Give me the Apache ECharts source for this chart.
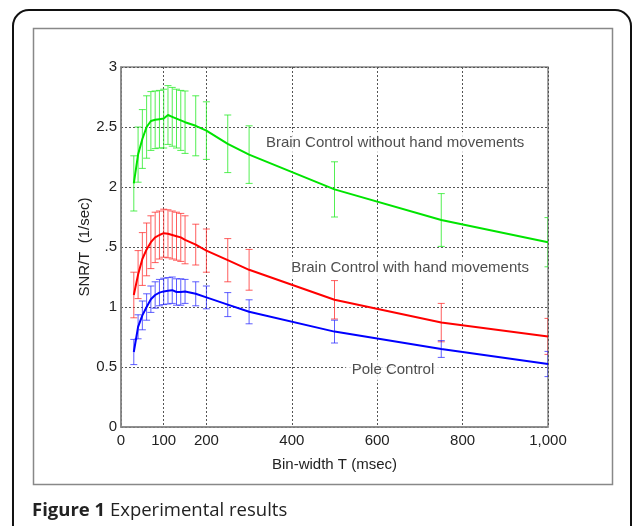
<!DOCTYPE html>
<html style="height: 100%">
<head>
  <meta charset="utf-8">
  <title>Experimental results</title>
</head>
<body style="height: 100%; margin: 0; background: #fff">
<div id="container" style="width: 633px; height: 526px"></div>
<script type="text/javascript" src="https://cdn.jsdelivr.net/npm/echarts@6/dist/echarts.min.js"></script>
<script type="text/javascript">
  // bin widths (msec)
  const binWidth = [30, 40, 50, 60, 70, 80, 90, 100, 110, 120, 130, 140, 150, 175, 200, 250, 300, 500, 750, 1000];

  // Brain Control without hand movements (green)
  const greenMean = [2.03, 2.27, 2.40, 2.50, 2.55, 2.56, 2.565, 2.57, 2.60, 2.585, 2.57, 2.555, 2.54, 2.51, 2.47, 2.36, 2.27, 1.98, 1.725, 1.54];
  const greenErr  = [0.23, 0.23, 0.245, 0.26, 0.245, 0.24, 0.24, 0.245, 0.245, 0.245, 0.245, 0.25, 0.26, 0.25, 0.24, 0.24, 0.24, 0.23, 0.22, 0.205];

  // Brain Control with hand movements (red)
  const redMean = [1.10, 1.27, 1.40, 1.48, 1.54, 1.58, 1.60, 1.615, 1.61, 1.60, 1.59, 1.58, 1.56, 1.52, 1.47, 1.39, 1.31, 1.06, 0.87, 0.755];
  const redErr  = [0.19, 0.2, 0.22, 0.22, 0.22, 0.21, 0.2, 0.2, 0.2, 0.2, 0.2, 0.2, 0.2, 0.17, 0.18, 0.18, 0.17, 0.16, 0.16, 0.15];

  // Pole Control (blue)
  const blueMean = [0.625, 0.835, 0.93, 1.00, 1.065, 1.10, 1.12, 1.13, 1.135, 1.14, 1.125, 1.125, 1.13, 1.11, 1.08, 1.02, 0.96, 0.795, 0.65, 0.525];
  const blueErr  = [0.105, 0.1, 0.12, 0.11, 0.11, 0.11, 0.11, 0.11, 0.11, 0.11, 0.11, 0.11, 0.1, 0.1, 0.095, 0.1, 0.1, 0.095, 0.07, 0.105];

  // tick labels
  const xTicks = [0, 100, 200, 400, 600, 800, 1000];

  // in-plot notes: [x, y, text]
  const notes = [
    [642, 2.37, 'Brain Control without hand movements'],
    [677, 1.325, 'Brain Control with hand movements'],
    [637, 0.475, 'Pole Control']
  ];

  const font = '"Liberation Sans", Arial, sans-serif';

  let myChart = echarts.init(document.getElementById('container'));

  function zip(xs, ys) {
    return xs.map((x, i) => [x, ys[i]]);
  }
  function bars(xs, m, e) {
    return xs.map((x, i) => [x, m[i] - e[i], m[i] + e[i]]);
  }
  // error bar with caps
  function errRender(color) {
    return function (params, api) {
      const x = api.value(0);
      const lo = api.coord([x, api.value(1)]);
      const hi = api.coord([x, api.value(2)]);
      const w = 3.5;
      const st = { stroke: color, lineWidth: 1 };
      return {
        type: 'group',
        children: [
          { type: 'line', shape: { x1: lo[0], y1: lo[1], x2: hi[0], y2: hi[1] }, style: st },
          { type: 'line', shape: { x1: lo[0] - w, y1: lo[1], x2: lo[0] + w, y2: lo[1] }, style: st },
          { type: 'line', shape: { x1: hi[0] - w, y1: hi[1], x2: hi[0] + w, y2: hi[1] }, style: st }
        ]
      };
    };
  }

  const groups = [
    { name: 'green', line: '#00e400', bar: 'rgba(40,235,40,0.8)', m: greenMean, e: greenErr },
    { name: 'red', line: '#ff0000', bar: 'rgba(255,40,40,0.75)', m: redMean, e: redErr },
    { name: 'blue', line: '#0000ff', bar: 'rgba(40,40,255,0.75)', m: blueMean, e: blueErr }
  ];

  const series = [];
  groups.forEach(g => {
    series.push({
      type: 'custom',
      name: g.name + '-err',
      renderItem: errRender(g.bar),
      data: bars(binWidth, g.m, g.e),
      clip: true,
      z: 3,
      silent: true
    });
    series.push({
      type: 'line',
      name: g.name,
      data: zip(binWidth, g.m),
      showSymbol: false,
      lineStyle: { color: g.line, width: 2 },
      z: 4,
      silent: true
    });
  });
  series.push({
    type: 'scatter',
    data: notes,
    symbolSize: 0,
    z: 10,
    silent: true,
    label: {
      show: true,
      position: 'inside',
      formatter: p => p.value[2],
      fontFamily: font,
      fontSize: 15,
      color: '#222',
      backgroundColor: '#fff',
      padding: [3, 6]
    }
  });

  const gridLine = { show: true, lineStyle: { color: '#555', type: [2, 2], width: 1 } };

  let option = {
    animation: false,
    backgroundColor: '#fff',
    grid: { left: 121, top: 67, width: 427, height: 360, show: true, borderColor: '#888', borderWidth: 1.5, backgroundColor: 'transparent' },
    xAxis: {
      type: 'value',
      min: 0,
      max: 1000,
      interval: 100,
      name: 'Bin-width T (msec)',
      nameLocation: 'middle',
      nameGap: 30,
      nameTextStyle: { fontFamily: font, fontSize: 15, color: '#222' },
      axisLine: { lineStyle: { color: '#888', width: 1.5 } },
      axisTick: { show: false, customValues: xTicks },
      axisLabel: {
        customValues: xTicks,
        fontFamily: font, fontSize: 15, color: '#222', margin: 6,
        formatter: v => v === 1000 ? '1,000' : String(v)
      },
      splitLine: gridLine
    },
    yAxis: {
      type: 'value',
      min: 0,
      max: 3,
      interval: 0.5,
      name: 'SNR/T  (1/sec)',
      nameLocation: 'middle',
      nameGap: 29,
      nameMoveOverlap: false,
      nameTextStyle: { fontFamily: font, fontSize: 15, color: '#222' },
      axisLine: { show: true, lineStyle: { color: '#888', width: 1.5 } },
      axisTick: { show: false },
      axisLabel: {
        fontFamily: font, fontSize: 15, color: '#222', margin: 4,
        formatter: v => v === 1.5 ? '.5' : String(v)
      },
      splitLine: gridLine
    },
    graphic: [
      {
        type: 'rect',
        shape: { x: 13, y: 10, width: 618, height: 560, r: 16 },
        style: { fill: 'none', stroke: '#111', lineWidth: 2 },
        z: -1, silent: true
      },
      {
        type: 'rect',
        shape: { x: 33.5, y: 28.5, width: 579, height: 456 },
        style: { fill: 'none', stroke: '#888', lineWidth: 1.5 },
        z: -1, silent: true
      },
      {
        type: 'text',
        x: 32, y: 511,
        style: {
          text: '{b|Figure 1} Experimental results',
          verticalAlign: 'middle',
          font: '18.5px "Open Sans", sans-serif',
          fill: '#222',
          rich: { b: { fontWeight: 'bold', fontSize: 18.5, fontFamily: '"Open Sans", sans-serif', fill: '#222' } }
        },
        silent: true
      }
    ],
    series: series
  };

  myChart.setOption(option, true);
</script>
</body>
</html>
